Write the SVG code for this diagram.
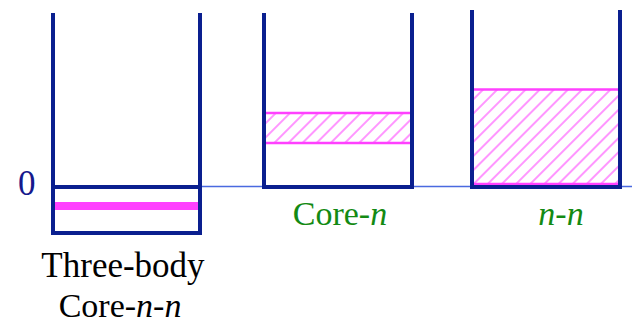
<svg xmlns="http://www.w3.org/2000/svg" width="632" height="325" viewBox="0 0 632 325">
<style>
.wall{fill:none;stroke:#0a1f8f;stroke-width:4;stroke-linejoin:miter}
.edge{stroke:#ff40ff;stroke-width:2.5}
text{font-family:'Liberation Serif','Times New Roman',serif}
.g{fill:#138a13}
</style>
<defs>
<pattern id="hatch" patternUnits="userSpaceOnUse" width="10" height="10" patternTransform="rotate(45)">
<line x1="5" y1="0" x2="5" y2="10" stroke="#ff40ff" stroke-width="1.1"/>
</pattern>
</defs>
<rect width="632" height="325" fill="#fff"/>
<g id="connectors">
<line x1="200" y1="186.5" x2="632" y2="186.5" stroke="#4a6ae0" stroke-width="1.5"/>
</g>
<g id="box1">
<path class="wall" d="M53,13 V233 H200 V13"/>
<line x1="53" y1="187" x2="200" y2="187" stroke="#0a1f8f" stroke-width="4"/>
<line x1="51" y1="206" x2="198" y2="206" stroke="#ff40ff" stroke-width="8"/>
<line x1="53" y1="13" x2="53" y2="233" stroke="#0a1f8f" stroke-width="4"/>
<text x="18" y="195" font-size="35" fill="#16198c">0</text>
<text x="123" y="277" font-size="35" text-anchor="middle" fill="#000">Three-body</text>
<text x="120" y="317" font-size="34" text-anchor="middle" fill="#000">Core-<tspan font-style="italic">n</tspan>-<tspan font-style="italic">n</tspan></text>
</g>
<g id="box2">
<rect x="266" y="113" width="144" height="30" fill="url(#hatch)"/>
<line class="edge" x1="266" y1="113" x2="410" y2="113"/>
<line class="edge" x1="266" y1="143" x2="410" y2="143"/>
<path class="wall" d="M264,13 V187 H412 V13"/>
<text class="g" x="340" y="225" font-size="34" text-anchor="middle">Core-<tspan font-style="italic">n</tspan></text>
</g>
<g id="box3">
<rect x="474" y="89" width="144" height="95" fill="url(#hatch)"/>
<line class="edge" x1="474" y1="89.5" x2="618" y2="89.5"/>
<line class="edge" x1="474" y1="184" x2="618" y2="184"/>
<path class="wall" d="M472,10 V187 H620 V10"/>
<text class="g" x="561" y="225" font-size="34" text-anchor="middle" font-style="italic">n-n</text>
</g>
</svg>
